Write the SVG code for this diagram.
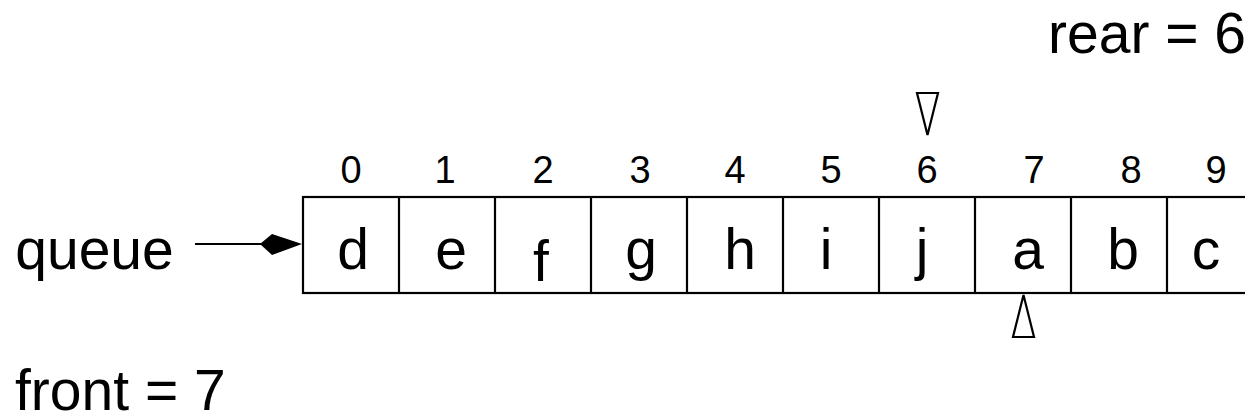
<svg xmlns="http://www.w3.org/2000/svg" width="1245" height="416" viewBox="0 0 1245 416">
<style>
text{font-family:"Liberation Sans",Arial,sans-serif;fill:#000}
.big{font-size:57px}
.cell{font-size:57px;text-anchor:middle}
.idx{font-size:38px;text-anchor:middle}
.ln{stroke:#000;stroke-width:2.2;fill:none}
.tri{stroke:#000;stroke-width:2.2;fill:#fff;stroke-linejoin:miter}
</style>
<rect width="1245" height="416" fill="#fff"/>
<g id="label-queue"><text class="big" x="94.5" y="269" text-anchor="middle">queue</text></g>
<g id="label-front"><text class="big" x="15" y="410">front = 7</text></g>
<g id="label-rear"><text class="big" x="1048" y="53">rear = 6</text></g>
<g id="array">
<rect class="ln" x="303" y="197" width="962" height="96"/>
<path class="ln" d="M399 197V293M495 197V293M591 197V293M687 197V293M783 197V293M879 197V293M975 197V293M1071 197V293M1167 197V293"/>
<text class="cell" x="353" y="269">d</text>
<text class="cell" x="451" y="269">e</text>
<text class="cell" x="541" y="281">f</text>
<text class="cell" x="641" y="269">g</text>
<text class="cell" x="740" y="269">h</text>
<text class="cell" x="826" y="269">i</text>
<text class="cell" x="922" y="269">j</text>
<text class="cell" x="1028" y="269">a</text>
<text class="cell" x="1123" y="269">b</text>
<text class="cell" x="1206" y="269">c</text>
<text class="idx" x="351" y="183">0</text>
<text class="idx" x="445" y="183">1</text>
<text class="idx" x="543" y="183">2</text>
<text class="idx" x="640" y="183">3</text>
<text class="idx" x="735" y="183">4</text>
<text class="idx" x="831" y="183">5</text>
<text class="idx" x="927" y="183">6</text>
<text class="idx" x="1034" y="183">7</text>
<text class="idx" x="1131" y="183">8</text>
<text class="idx" x="1216" y="183">9</text>
</g>
<g id="rear-pointer"><polygon class="tri" points="917,93 938,93 927.5,135"/></g>
<g id="front-pointer"><polygon class="tri" points="1023.5,295 1034,337 1013,337"/></g>
<g id="connectors">
<line class="ln" x1="195" y1="244" x2="262" y2="244"/>
<polygon points="260,244 272,234 302,244 272,255" fill="#000"/>
</g>
</svg>
